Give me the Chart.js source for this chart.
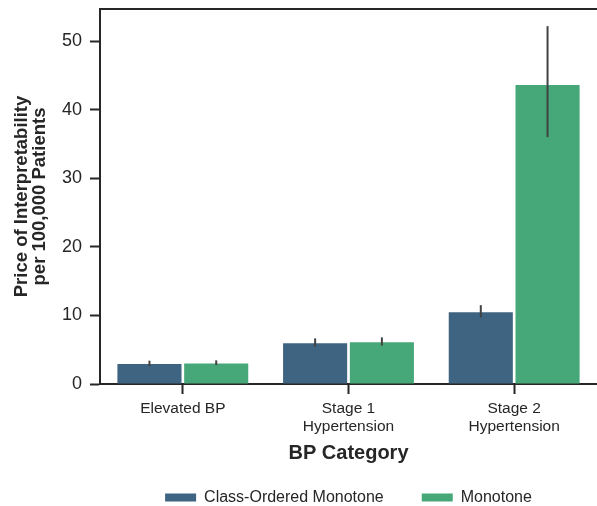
<!DOCTYPE html>
<html>
<head>
<meta charset="utf-8">
<script src="https://cdn.jsdelivr.net/npm/chart.js@4"></script>
<style>
html,body{margin:0;padding:0;background:#fff;overflow:hidden;}
#wrap{width:597px;height:506px;}
</style>
</head>
<body>
<div id="wrap"><canvas id="c" width="597" height="506"></canvas></div>
<script>
const categories = ["Elevated BP", ["Stage 1", "Hypertension"], ["Stage 2", "Hypertension"]];
const seriesNames = ["Class-Ordered Monotone", "Monotone"];
const classOrdered = [2.9, 5.95, 10.45];
const classOrderedLow = [2.6, 5.45, 9.7];
const classOrderedHigh = [3.4, 6.65, 11.5];
const monotone = [3.0, 6.1, 43.6];
const monotoneLow = [2.75, 5.6, 36.0];
const monotoneHigh = [3.45, 6.8, 52.2];
const yTicks = [0, 10, 20, 30, 40, 50];

const FONT = "'Liberation Sans', Arial, sans-serif";
const TXT = "#262626";

const errorBars = {
  id: 'errorBars',
  afterDatasetsDraw(chart) {
    const ctx = chart.ctx;
    const y = chart.scales.y;
    ctx.save();
    ctx.strokeStyle = '#424242';
    ctx.lineWidth = 2;
    chart.data.datasets.forEach((ds, i) => {
      const meta = chart.getDatasetMeta(i);
      meta.data.forEach((bar, j) => {
        ctx.beginPath();
        ctx.moveTo(bar.x, y.getPixelForValue(ds.errLow[j]));
        ctx.lineTo(bar.x, y.getPixelForValue(ds.errHigh[j]));
        ctx.stroke();
      });
    });
    ctx.restore();
  }
};

const frame = {
  id: 'frame',
  afterInit(chart) {
    const lg = chart.legend;
    if (lg) {
      const origFit = lg.fit.bind(lg);
      lg.fit = function () { origFit(); this.height = 0; };
    }
  },
  afterLayout(chart) {
    const lg = chart.legend;
    if (lg) {
      lg.top = 451.5;
      lg.bottom = 506;
      lg.height = lg.bottom - lg.top;
      lg.left = 100;
      lg.right = 597;
      lg.width = lg.right - lg.left;
    }
  },
  afterDraw(chart) {
    const a = chart.chartArea, ctx = chart.ctx;
    ctx.save();
    ctx.strokeStyle = TXT;
    ctx.lineWidth = 2;
    ctx.beginPath();
    ctx.moveTo(a.left, a.top);
    ctx.lineTo(a.right, a.top);
    ctx.stroke();
    ctx.restore();
  }
};

new Chart(document.getElementById('c'), {
  type: 'bar',
  data: {
    labels: categories,
    datasets: [
      { label: seriesNames[0], data: classOrdered, errLow: classOrderedLow, errHigh: classOrderedHigh,
        backgroundColor: '#3e6482', borderWidth: 0 },
      { label: seriesNames[1], data: monotone, errLow: monotoneLow, errHigh: monotoneHigh,
        backgroundColor: '#46a878', borderWidth: 0 }
    ]
  },
  options: {
    responsive: false,
    animation: false,
    devicePixelRatio: 1,
    categoryPercentage: 0.806,
    barPercentage: 0.96,
    layout: { padding: { top: 9, right: -7, left: 0, bottom: 0 } },
    plugins: {
      legend: {
        position: 'bottom',
        labels: {
          boxWidth: 31, boxHeight: 8, padding: 38,
          color: TXT, font: { family: FONT, size: 16 }
        }
      },
      tooltip: { enabled: false }
    },
    scales: {
      x: {
        grid: { display: true, offset: false, drawOnChartArea: false, tickLength: 10, tickWidth: 2, tickColor: TXT },
        border: { display: true, color: TXT, width: 2 },
        ticks: { color: TXT, font: { family: FONT, size: 15.5 }, padding: 5, maxRotation: 0 },
        title: { display: true, text: 'BP Category', color: TXT, font: { family: FONT, size: 20, weight: 'bold' }, padding: { top: 0, bottom: 41 } },
        afterFit(s) { s.height = 122; s.paddingLeft = 0; s.paddingRight = 0; }
      },
      y: {
        min: 0, max: 54.7,
        afterBuildTicks(s) { s.ticks = yTicks.map(v => ({ value: v })); },
        grid: { display: true, drawOnChartArea: false, tickLength: 10, tickWidth: 2, tickColor: TXT },
        border: { display: true, color: TXT, width: 2 },
        ticks: { color: TXT, font: { family: FONT, size: 18 }, padding: 8 },
        title: { display: true, text: ['Price of Interpretability', 'per 100,000 Patients'], color: TXT,
                 font: { family: FONT, size: 18.5, weight: 'bold', lineHeight: 1.0 }, padding: { top: 12.5, bottom: 0 } },
        afterFit(s) { s.width = 100; s.paddingTop = 0; s.paddingBottom = 0; }
      }
    }
  },
  plugins: [errorBars, frame]
});
</script>
</body>
</html>
